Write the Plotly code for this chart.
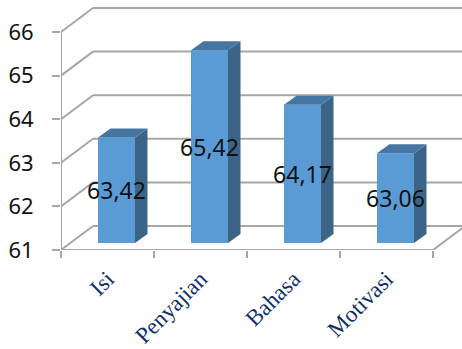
import plotly.graph_objects as go

categories = ["Isi", "Penyajian", "Bahasa", "Motivasi"]
values = [63.42, 65.42, 64.17, 63.06]
y_ticks = [61, 62, 63, 64, 65, 66]
x_bounds = [-0.5, 0.5, 1.5, 2.5, 3.5]

GRID = "#a6a6a6"
FRONT, TOP, SIDE = "#5b9bd5", "#4575a3", "#3b6487"
W, H = 462, 349
L, B = 61, 99
PX_X, PX_Y = 93.0, 43.6
DX, DY = 32 / PX_X, 24 / PX_Y          # wall depth
BAR_L = (98 - 61) / PX_X - 0.5
BAR_W = 37 / PX_X
BASE = 7 / PX_Y
DDX, DDY = 12.5 / PX_X, 9 / PX_Y       # bar depth
x_range = [-0.5, -0.5 + (W - L) / PX_X]
y_range = [61, 61 + (H - B) / PX_Y]

fig = go.Figure()

fig.add_trace(go.Bar(
    x=list(range(len(categories))), y=[v - 61 for v in values], base=61 + BASE,
    width=BAR_W, offset=BAR_L, marker=dict(color=FRONT, line=dict(width=0)),
    hoverinfo="skip", showlegend=False))

for i, v in enumerate(values):
    x0, x1 = i + BAR_L, i + BAR_L + BAR_W
    top, bot = v + BASE, 61 + BASE
    fig.add_trace(go.Scatter(
        x=[x1, x1 + DDX, x1 + DDX, x1, x1], y=[bot, bot + DDY, top + DDY, top, bot],
        mode="lines", fill="toself", fillcolor=SIDE, line=dict(width=0),
        hoverinfo="skip", showlegend=False))
    fig.add_trace(go.Scatter(
        x=[x0, x0 + DDX, x1 + DDX, x1, x0], y=[top, top + DDY, top + DDY, top, top],
        mode="lines", fill="toself", fillcolor=TOP, line=dict(width=0),
        hoverinfo="skip", showlegend=False))

fig.add_trace(go.Scatter(
    x=[i + BAR_L + BAR_W / 2 for i in range(len(values))],
    y=[(v + 61) / 2 + BASE / 2 for v in values],
    mode="text", text=[f"{v:.2f}".replace(".", ",") for v in values],
    textposition="middle center",
    textfont=dict(family="Noto Sans", size=23, color="#111111"),
    hoverinfo="skip", showlegend=False))

# invisible trace that carries the category-label axis
fig.add_trace(go.Scatter(x=list(range(len(categories))), y=values, xaxis="x2",
                         mode="markers", marker=dict(opacity=0),
                         hoverinfo="skip", showlegend=False))

shapes = []
def seg(x0, y0, x1, y1):
    shapes.append(dict(type="line", xref="x", yref="y", x0=x0, y0=y0, x1=x1, y1=y1,
                       layer="below", line=dict(color=GRID, width=2)))

seg(-0.5, y_ticks[0], -0.5, y_ticks[-1])
seg(x_bounds[0], y_ticks[0], x_bounds[-1], y_ticks[0])
seg(x_bounds[-1], y_ticks[0], x_bounds[-1] + DX, y_ticks[0] + DY)
for t in y_ticks:
    seg(-0.5, t, -0.5 + DX, t + DY)
    seg(-0.5 + DX, t + DY, x_bounds[-1] + DX, t + DY)

fig.update_layout(
    width=W, height=H, margin=dict(l=L, r=0, t=0, b=B, autoexpand=False),
    paper_bgcolor="white", plot_bgcolor="white", shapes=shapes, showlegend=False,
    xaxis=dict(range=x_range, tickmode="array", tickvals=x_bounds, ticktext=[""] * 5,
               ticks="outside", ticklen=7, tickwidth=2, tickcolor=GRID, automargin=False,
               showgrid=False, zeroline=False, showline=False),
    xaxis2=dict(range=x_range, overlaying="x", side="bottom", anchor="y",
                tickmode="array", tickvals=list(range(len(categories))), ticktext=categories,
                tickangle=-45, ticks="", ticklabelstandoff=10, automargin=False,
                tickfont=dict(family="Liberation Serif", size=23, color="#0f2f6b"),
                showgrid=False, zeroline=False, showline=False),
    yaxis=dict(range=y_range, tickmode="array", tickvals=y_ticks,
               ticktext=[str(t) for t in y_ticks],
               ticks="outside", ticklen=8, tickwidth=2, tickcolor=GRID,
               ticklabelstandoff=14, automargin=False,
               tickfont=dict(family="Noto Sans", size=22, color="#111111"),
               showgrid=False, zeroline=False, showline=False),
)

fig.write_html("out.html", config=dict(displayModeBar=False),
               post_script="document.body.style.margin='0';document.body.style.overflow='hidden';")
